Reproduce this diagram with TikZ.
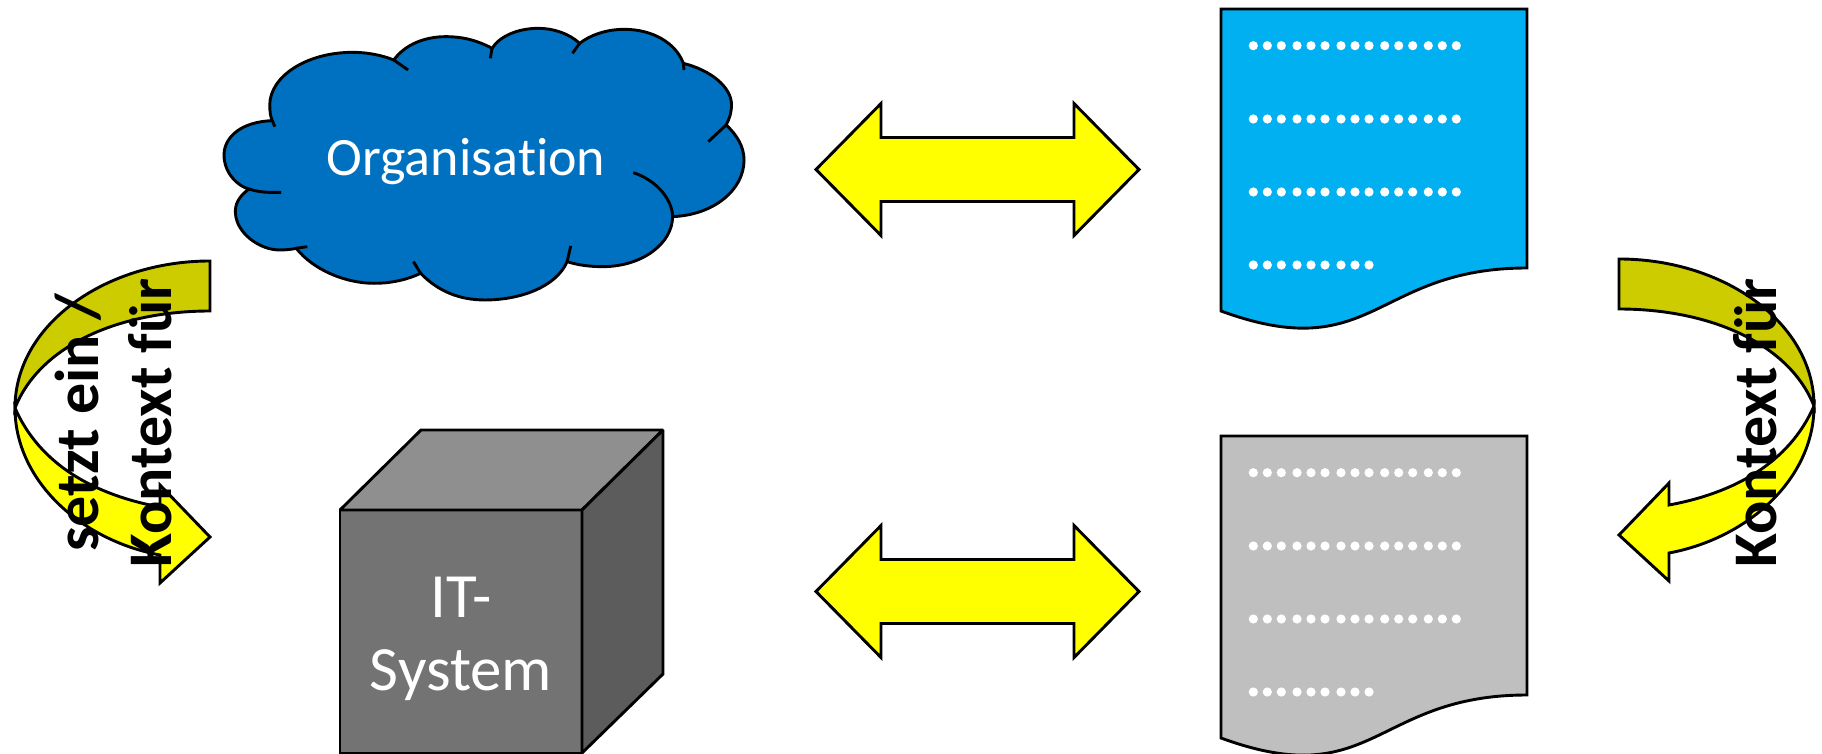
\documentclass[tikz,border=0pt]{standalone}
\usepackage{fontspec}
\setmainfont{Carlito}[Ligatures=NoCommon]
\begin{document}
\begin{tikzpicture}[x=1pt,y=-1pt,line join=miter,
        block line/.style={draw=black, line width=2.9pt},
        white text/.style={text=white, inner sep=0pt, align=center},
        side text/.style={text=black, inner sep=0pt, align=center, rotate=90, font=\fontsize{62}{73}\selectfont\bfseries}]
        \definecolor{cloud blue}{HTML}{0070C0}
        \definecolor{page blue}{HTML}{00B0F0}
        \definecolor{page gray}{HTML}{BFBFBF}
        \definecolor{full yellow}{HTML}{FFFF00}
        \definecolor{dark yellow}{HTML}{CCCC00}
        \useasboundingbox (0,0) rectangle (1822,754);

        % cloud
        \begin{scope}[shift={(199,0)},xscale=.3574,yscale=.3333]
          \draw[block line,fill=cloud blue](205,362)
            .. controls (120,365) and (70,410) .. (70,465)
            .. controls (70,520) and (110,560) .. (140,567)
            .. controls (110,590) and (100,615) .. (102,640)
            .. controls (105,700) and (170,750) .. (225,750)
            .. controls (245,750) and (260,748) .. (272,745)
            .. controls (320,810) and (410,850) .. (490,850)
            .. controls (540,850) and (585,838) .. (620,820)
            .. controls (670,875) and (730,900) .. (800,900)
            .. controls (900,900) and (1000,860) .. (1030,785)
            .. controls (1060,795) and (1090,800) .. (1130,800)
            .. controls (1240,800) and (1325,730) .. (1325,650)
            .. controls (1440,645) and (1525,570) .. (1525,480)
            .. controls (1525,440) and (1505,405) .. (1475,375)
            .. controls (1485,355) and (1490,335) .. (1490,315)
            .. controls (1490,260) and (1430,210) .. (1355,190)
            .. controls (1335,130) and (1270,88) .. (1190,88)
            .. controls (1140,88) and (1095,105) .. (1065,130)
            .. controls (1035,100) and (990,85) .. (950,85)
            .. controls (890,85) and (840,110) .. (820,145)
            .. controls (780,122) and (740,110) .. (690,110)
            .. controls (630,110) and (575,135) .. (545,180)
            .. controls (510,165) and (470,157) .. (430,157)
            .. controls (300,157) and (198,230) .. (198,315)
            .. controls (198,335) and (200,350) .. (205,362)--cycle;
          \draw[block line](205,362)--(212,380);
          \draw[block line](140,567) .. controls (170,578) and (200,578) .. (230,577);
          \draw[block line](272,745)--(303,740);
          \draw[block line](600,785)--(620,820);
          \draw[block line](1040,738)--(1030,785);
          \draw[block line](1215,518) .. controls (1280,540) and (1325,600) .. (1325,650);
          \draw[block line](1425,425)--(1475,375);
          \draw[block line](1355,190)--(1357,210);
          \draw[block line](1045,160)--(1065,130);
          \draw[block line](815,175)--(820,145);
          \draw[block line](585,210)--(545,180);
        \end{scope}
        \node[white text,font=\fontsize{54}{60}\selectfont,anchor=base] (organisation) at (466,176) {Organisation};

        % cube
        \draw[block line,fill=black!55](340,510)--(582,510)--(582,753)--(340,753)--cycle;
        \draw[block line,fill=black!44,miter limit=2](340,510)--(421,430)--(663,430)--(582,510)--cycle;
        \draw[block line,fill=black!64,miter limit=2](582,510)--(663,430)--(663,674)--(582,753)--cycle;
        \node[white text,font=\fontsize{63}{73}\selectfont] (itsystem) at (461,639) {IT-\\System};

        % double arrows
        \foreach \rowy in {169.5,591.5}{
          \begin{scope}[shift={(0,\rowy)}]
            \draw[block line,fill=full yellow](816,0)--(881,-66)--(881,-32)--(1074,-32)--(1074,-66)--(1139,0)--(1074,66)--(1074,32)--(881,32)--(881,66)--cycle;
          \end{scope}
        }

        % pages
        \foreach \pagey/\pagecol in {0/page blue,427/page gray}{
          \begin{scope}[shift={(0,\pagey)}]
            \draw[block line,fill=\pagecol](1221,9)--(1527,9)--(1527,268) .. controls (1374,268) and (1374,367) .. (1221,311)--cycle;
            \foreach \doty in {45.7,119,192}{
              \foreach \dotx in {1253.3,1267.3,1281.3,1297,1311,1325,1341,1355,1369,1384.7,1398.7,1412.7,1428.3,1442.3,1456.3}
                \fill[white](\dotx,\doty) circle (4.6);
            }
            \foreach \dotx in {1253.3,1267.3,1281.3,1297,1311,1325,1341,1355,1369}
              \fill[white](\dotx,265) circle (4.6);
          \end{scope}
        }

        % left bent arrow
        \begin{scope}[shift={(0,0)}]
          \draw[block line,fill=dark yellow](210,261) .. controls (105,261) and (15,325) .. (15,408) .. controls (40,345) and (120,311) .. (210,311)--cycle;
          \draw[block line,fill=full yellow](15,408) .. controls (15,480) and (80,540) .. (160,555)--(160,583)--(210,537)--(160,485)--(160,507) .. controls (95,495) and (40,465) .. (15,408)--cycle;
        \end{scope}

        % right bent arrow
        \begin{scope}[shift={(1829,-2)},xscale=-1]
          \draw[block line,fill=dark yellow](210,261) .. controls (105,261) and (15,325) .. (15,408) .. controls (40,345) and (120,311) .. (210,311)--cycle;
          \draw[block line,fill=full yellow](15,408) .. controls (15,480) and (80,540) .. (160,555)--(160,583)--(210,537)--(160,485)--(160,507) .. controls (95,495) and (40,465) .. (15,408)--cycle;
        \end{scope}

        \node[side text] (setzt) at (113,423) {setzt ein /\\Kontext für};
        \node[side text] (kontext) at (1755,423) {Kontext für};
      \end{tikzpicture}
\end{document}
